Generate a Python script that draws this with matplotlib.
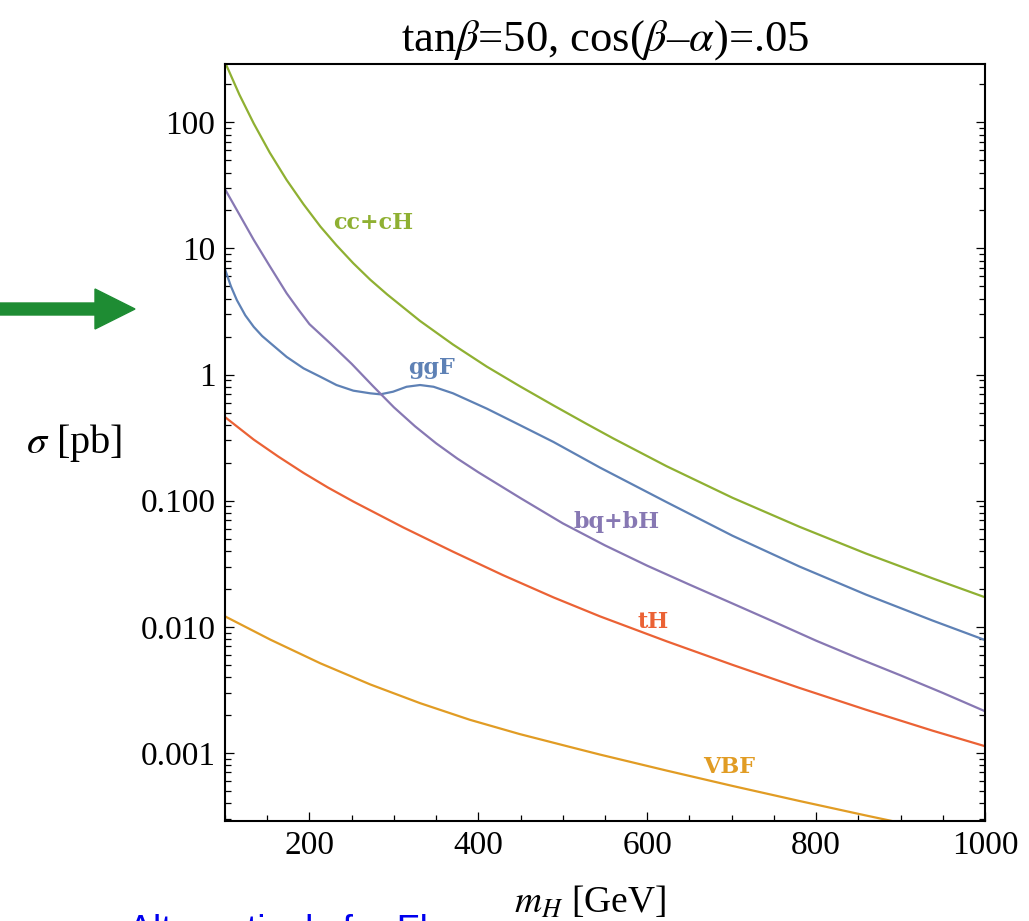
import matplotlib
matplotlib.use("Agg")
import matplotlib.pyplot as plt
from matplotlib.patches import FancyArrow
from matplotlib.ticker import FixedLocator, MultipleLocator, LogLocator, NullFormatter

plt.rcParams['font.family'] = ['Liberation Serif', 'DejaVu Serif']
plt.rcParams['mathtext.fontset'] = 'stix'

# cross sections [pb], vs m_H [GeV]
m_cc = [100, 117, 134, 153, 173, 193, 213, 232, 252, 272, 292, 331, 370, 410, 449, 489, 528, 560, 623, 701,
        780, 859, 938, 1000]
sigma_cc = [300, 166, 98, 57.5, 34.9, 22.4, 14.9, 10.6, 7.62, 5.65, 4.32, 2.66, 1.73, 1.156, 0.809, 0.569, 0.407,
            0.311, 0.1875, 0.1054, 0.0622, 0.0381, 0.0242, 0.01714]

m_ggf = [100, 107, 114, 124, 134, 144, 154, 173, 193, 213, 232, 252, 272, 284, 299, 315, 331, 347, 370, 410, 449,
         489, 544, 623, 701, 780, 859, 938, 1000]
sigma_ggf = [6.84, 5.01, 3.90, 2.95, 2.39, 2.02, 1.77, 1.38, 1.12, 0.96, 0.826, 0.745, 0.710, 0.697, 0.731, 0.80,
             0.826, 0.80, 0.71, 0.537, 0.398, 0.292, 0.183, 0.0973, 0.0527, 0.0301, 0.0180, 0.0112, 0.00785]

m_bq = [100, 117, 134, 153, 173, 187, 200, 225, 250, 275, 300, 325, 350, 375, 400, 450, 500, 550, 600, 650, 700,
        750, 800, 850, 900, 950, 1000]
sigma_bq = [29.5, 18.6, 11.7, 7.24, 4.41, 3.27, 2.51, 1.758, 1.216, 0.813, 0.550, 0.389, 0.285, 0.216, 0.168,
            0.1047, 0.0661, 0.0442, 0.0305, 0.0216, 0.0154, 0.01096, 0.00776, 0.00562, 0.00412, 0.00299, 0.00214]

m_th = [100, 134, 163, 193, 222, 252, 311, 370, 429, 489, 544, 623, 701, 780, 859, 938, 1000]
sigma_th = [0.460, 0.305, 0.224, 0.166, 0.127, 0.0984, 0.0614, 0.0394, 0.0257, 0.0171, 0.0121, 0.00767, 0.00499,
            0.00328, 0.0022, 0.0015, 0.00113]

m_vbf = [100, 154, 213, 272, 331, 390, 449, 508, 544, 623, 701, 780, 859, 900, 940]
sigma_vbf = [0.0121, 0.00789, 0.00513, 0.00349, 0.00248, 0.00183, 0.00141, 0.001117, 0.00097, 0.000724, 0.000547,
             0.000416, 0.000319, 0.000279, 0.000244]

ytick_vals = [0.001, 0.01, 0.1, 1, 10, 100]
ytick_labels = ['0.001', '0.010', '0.100', '1', '10', '100']
xtick_vals = [200, 400, 600, 800, 1000]

# Mathematica default colours
c_blue = '#5E81B5'
c_orange = '#E19C24'
c_green = '#8FB032'
c_red = '#EB6235'
c_purple = '#8778B3'

fig = plt.figure(figsize=(10.29, 9.21), dpi=100)
ax = fig.add_axes([225 / 1029, 1 - 820.7 / 921, 760 / 1029, 756.7 / 921])

lw = 1.6
ax.plot(m_cc, sigma_cc, color=c_green, lw=lw)
ax.plot(m_ggf, sigma_ggf, color=c_blue, lw=lw)
ax.plot(m_bq, sigma_bq, color=c_purple, lw=lw)
ax.plot(m_th, sigma_th, color=c_red, lw=lw)
ax.plot(m_vbf, sigma_vbf, color=c_orange, lw=lw)

ax.set_yscale('log')
ax.set_xlim(100, 1000)
ax.set_ylim(2.9e-4, 290)

# curve labels
lab_kw = dict(fontsize=16, fontweight='bold', family='DejaVu Serif', ha='center', va='center')
ax.text(275, 15.9, 'cc+cH', color=c_green, **lab_kw)
ax.text(344, 1.12, 'ggF', color=c_blue, **lab_kw)
ax.text(564, 0.0676, 'bq+bH', color=c_purple, **lab_kw)
ax.text(607, 0.0109, 'tH', color=c_red, **lab_kw)
ax.text(697, 0.00077, 'VBF', color=c_orange, **lab_kw)

# ticks
ax.yaxis.set_major_locator(FixedLocator(ytick_vals))
ax.set_yticklabels(ytick_labels)
ax.yaxis.set_minor_locator(LogLocator(base=10, subs=range(2, 10)))
ax.yaxis.set_minor_formatter(NullFormatter())
ax.xaxis.set_major_locator(FixedLocator(xtick_vals))
ax.xaxis.set_minor_locator(MultipleLocator(50))
ax.tick_params(which='both', direction='in', right=True, top=False, width=0.9)
ax.tick_params(which='major', length=6.5, labelsize=24, pad=7)
ax.tick_params(which='minor', length=4.3)
for s in ax.spines.values():
    s.set_linewidth(1.5)

ax.set_title(r'tan$\beta$=50, cos($\beta$–$\alpha$)=.05', fontsize=32, pad=10)

fig.text(590 / 1029, 0.0, r'$m_H$ [GeV]', fontsize=27, ha='center', va='bottom')
fig.text(74 / 1029, 1 - 443 / 921, r'$\sigma$ [pb]', fontsize=29, ha='center', va='center')

# green arrow pointing at the plot
arrow = FancyArrow(0.0, 1 - 309 / 921, 135 / 1029, 0, width=12 / 921, head_width=40 / 921,
                   head_length=40 / 1029, length_includes_head=True, color='#1e8c33',
                   transform=fig.transFigure)
fig.patches.append(arrow)

# partially hidden slide text at the bottom
fig.text(128 / 1029, 1 - 914 / 921, 'Alternatively for Fl', color='#0000ee', fontsize=27,
         family='Liberation Sans', ha='left', va='top')

fig.savefig('out.png', dpi=100)
